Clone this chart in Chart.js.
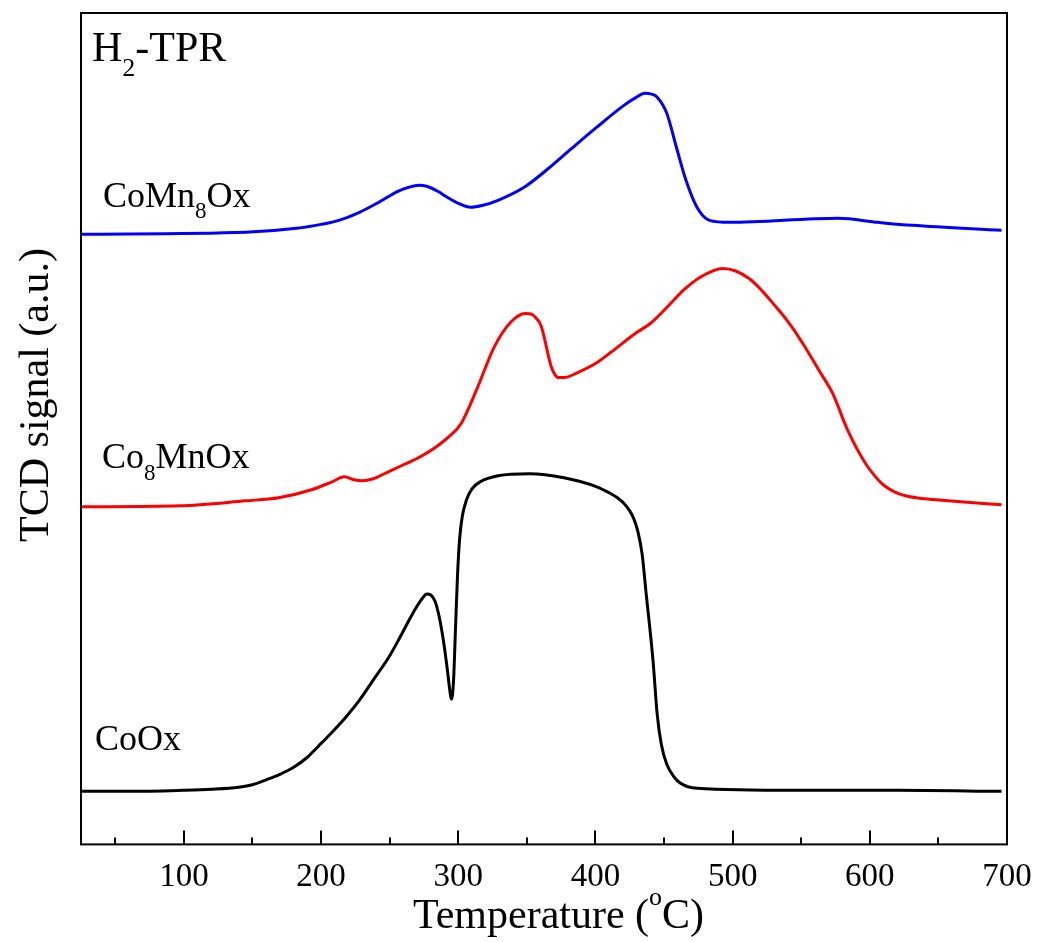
<!DOCTYPE html>
<html>
<head>
<meta charset="utf-8">
<script src="https://cdn.jsdelivr.net/npm/chart.js@4"></script>
<style>
  html, body { margin: 0; padding: 0; background: #fff; }
  #wrap { width: 1041px; height: 942px; }
</style>
</head>
<body>
<div id="wrap"><canvas id="tpr"></canvas></div>
<script>
// temperature (°C) and TCD signal (arb. units)
const coTemps = [25, 60, 99, 120, 140, 150, 160, 170, 180, 190, 198, 208, 218, 228, 238, 249, 258, 265, 270, 274, 277, 280, 283, 286, 289, 292, 294, 295, 296.5, 298, 299.5, 301, 303, 306, 310, 316, 329, 352, 377, 401, 410, 416, 421, 425, 428, 431, 434, 437, 442, 445, 448, 452, 457, 462, 474, 546, 620, 696];
const coSignal = [53, 53, 54, 55, 57, 59.5, 64.5, 70, 77, 87, 98, 112, 127, 144, 164, 186, 208, 226, 238, 246, 250, 249, 243, 228, 205, 175, 152, 145, 162, 216, 270, 305, 328, 344, 355, 362, 368, 370, 366, 357, 351, 346, 340, 333, 325, 312, 290, 250, 183, 130, 100, 80, 68, 61, 56, 54, 54, 53];

const co8Temps = [25, 97, 145, 169, 193, 208, 217, 224, 230, 238, 249, 260, 271, 283, 294, 302, 314, 326, 338, 349, 354, 357, 360, 362, 364, 366, 368, 370, 373, 377, 387, 400, 411, 430, 440, 452, 464, 476, 493, 512, 532, 543, 553, 563, 573, 584, 597, 609, 618, 626, 640, 657, 696];
const co8Signal = [337, 338, 343, 346, 354, 362, 367, 364, 363, 365, 372, 379, 386, 396, 408, 420, 456, 496, 521, 530, 529, 525, 519, 510, 498, 486, 476, 470, 466, 466, 471, 480, 491, 511, 520, 536, 553, 566, 575, 565, 536, 517, 496, 473, 450, 413, 380, 360, 352, 348, 345, 343, 339];

const mn8Temps = [25, 145, 182, 200, 213, 228, 242, 256, 264, 271, 277, 285, 292, 300, 309, 318, 329, 348, 365, 382, 401, 421, 430, 436, 441, 445, 452, 459, 466, 474, 483, 498, 577, 606, 631, 696];
const mn8Signal = [609, 611, 615, 619, 623, 631, 641, 652, 656, 658, 657, 652, 646, 640, 636, 638, 643, 656, 674, 694, 716, 738, 746, 750, 749, 746, 730, 696, 663, 636, 623, 621, 625, 621, 618, 613];

const xTicks = [50, 100, 150, 200, 250, 300, 350, 400, 450, 500, 550, 600, 650, 700];

const serif = "'Liberation Serif', 'Times New Roman', serif";

function pts(xs, ys) {
  return xs.map((x, i) => ({ x: x, y: ys[i] }));
}

// text with a sub/superscript piece: parts = [[text, size, dy], ...]
function richText(ctx, parts, x, y) {
  let cx = x;
  parts.forEach(p => {
    ctx.font = p[1] + 'px ' + serif;
    ctx.fillText(p[0], cx, y + p[2]);
    cx += ctx.measureText(p[0]).width;
  });
}

const decorations = {
  id: 'decorations',
  afterDraw(chart) {
    const ctx = chart.ctx;
    const a = chart.chartArea;
    const xs = chart.scales.x;
    ctx.save();
    ctx.strokeStyle = '#000';
    ctx.lineWidth = 2;
    ctx.strokeRect(a.left, a.top, a.right - a.left, a.bottom - a.top);

    // inward ticks on the bottom axis
    xTicks.forEach(v => {
      const px = Math.round(xs.getPixelForValue(v));
      const len = v % 100 === 0 ? 14 : 7;
      ctx.beginPath();
      ctx.moveTo(px, a.bottom);
      ctx.lineTo(px, a.bottom - len);
      ctx.stroke();
    });

    ctx.fillStyle = '#000';
    ctx.textBaseline = 'alphabetic';
    ctx.textAlign = 'left';
    richText(ctx, [['H', 42, 0], ['2', 26, 15], ['-TPR', 42, 0]], 92, 61);
    richText(ctx, [['CoMn', 36, 0], ['8', 23, 11], ['Ox', 36, 0]], 103, 207);
    richText(ctx, [['Co', 36, 0], ['8', 23, 12], ['MnOx', 36, 0]], 102, 468);
    richText(ctx, [['CoOx', 36, 0]], 95, 750);

    richText(ctx, [['Temperature (', 42, 0], ['o', 26, -23], ['C)', 42, 0]], 413, 928);

    ctx.translate(48, 395);
    ctx.rotate(-Math.PI / 2);
    ctx.textAlign = 'center';
    ctx.font = '42px ' + serif;
    ctx.fillText('TCD signal (a.u.)', 0, 0);
    ctx.restore();
  }
};

new Chart(document.getElementById('tpr'), {
  type: 'line',
  data: {
    datasets: [
      { label: 'CoMn8Ox', data: pts(mn8Temps, mn8Signal), borderColor: '#0000ff' },
      { label: 'Co8MnOx', data: pts(co8Temps, co8Signal), borderColor: '#ff0000' },
      { label: 'CoOx', data: pts(coTemps, coSignal), borderColor: '#000000' }
    ]
  },
  options: {
    responsive: true,
    maintainAspectRatio: false,
    animation: false,
    layout: { padding: { left: 81, right: 34, top: 13, bottom: 32 } },
    elements: {
      point: { radius: 0 },
      line: { borderWidth: 3, cubicInterpolationMode: 'monotone', fill: false }
    },
    plugins: {
      legend: { display: false },
      tooltip: { enabled: false }
    },
    scales: {
      x: {
        type: 'linear',
        min: 25,
        max: 700,
        grid: { display: false, drawTicks: false },
        border: { display: false },
        afterBuildTicks: axis => {
          axis.ticks = xTicks.map(v => ({ value: v }));
        },
        // let the layout padding alone decide the plot edges
        afterFit: axis => {
          axis.paddingLeft = 0;
          axis.paddingRight = 0;
        },
        ticks: {
          autoSkip: false,
          maxRotation: 0,
          padding: 13,
          color: '#000',
          font: { family: serif, size: 33 },
          callback: v => (v % 100 === 0 ? String(v) : '')
        }
      },
      y: {
        display: false,
        min: 0,
        max: 830
      }
    }
  },
  plugins: [decorations]
});
</script>
</body>
</html>
